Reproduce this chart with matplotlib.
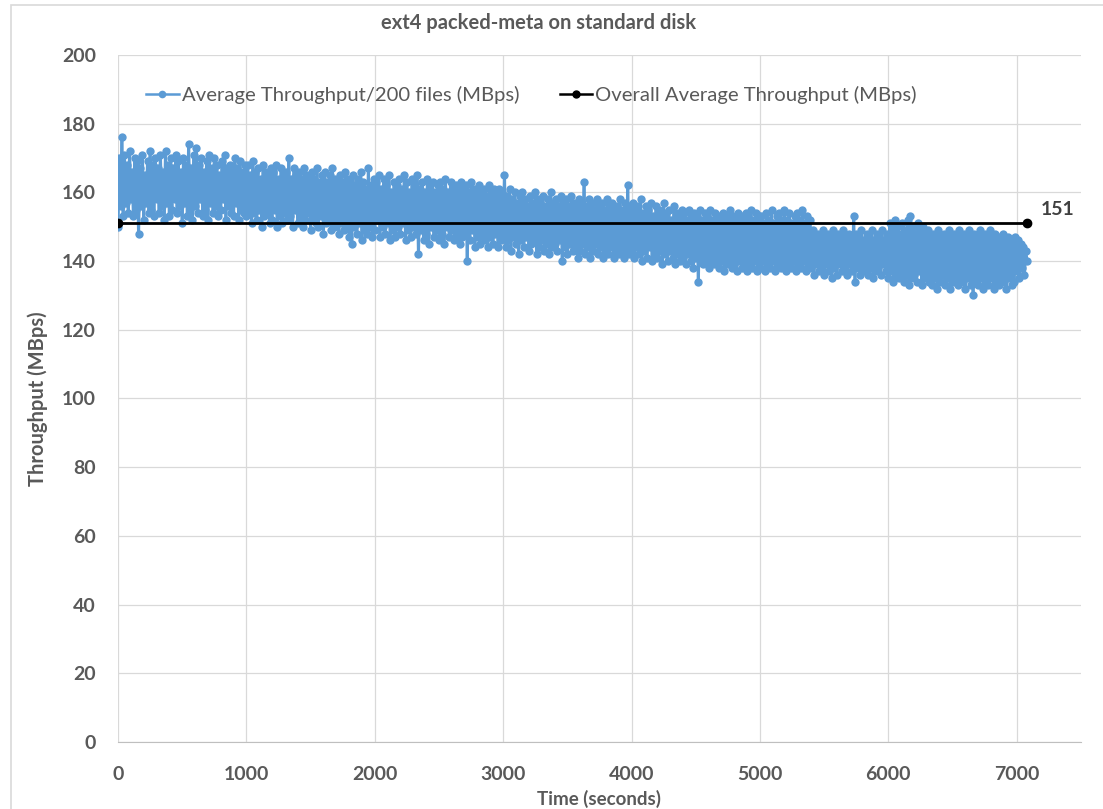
import numpy as np
import matplotlib
matplotlib.use("Agg")
import matplotlib.pyplot as plt
from matplotlib.patches import Rectangle
from matplotlib.lines import Line2D
from matplotlib.collections import LineCollection

# 1. Données

# une mesure toutes les 10 s (débit moyen sur 200 fichiers)
pas_temps = 10
debit = [
    # 0 - 990 s
    150, 170, 156, 176, 153, 171, 157, 168, 154, 172,
    158, 166, 153, 170, 155, 169, 148, 167, 156, 171,
    152, 165, 157, 169, 154, 172, 155, 168, 153, 170,
    158, 167, 154, 171, 156, 166, 152, 172, 157, 168,
    153, 170, 155, 167, 158, 171, 154, 169, 156, 166,
    151, 170, 157, 168, 153, 174, 155, 167, 152, 171,
    156, 173, 154, 168, 158, 170, 153, 166, 155, 169,
    152, 171, 157, 167, 154, 170, 156, 168, 153, 165,
    155, 169, 158, 171, 152, 167, 156, 168, 154, 166,
    153, 170, 157, 167, 152, 169, 155, 166, 154, 168,
    # 1000 - 1990 s
    153, 168, 155, 165, 151, 169, 154, 166, 152, 167,
    155, 164, 150, 168, 153, 166, 154, 165, 151, 167,
    152, 166, 155, 168, 150, 164, 153, 167, 151, 165,
    154, 166, 152, 170, 153, 164, 150, 167, 155, 165,
    151, 166, 153, 164, 150, 167, 152, 165, 154, 163,
    149, 166, 152, 164, 151, 167, 150, 163, 153, 165,
    148, 166, 151, 163, 152, 165, 149, 167, 150, 164,
    152, 162, 148, 165, 151, 163, 149, 166, 150, 164,
    147, 163, 145, 165, 150, 162, 148, 164, 151, 166,
    146, 163, 149, 161, 148, 167, 150, 162, 147, 164,
    # 2000 - 2990 s
    149, 163, 152, 165, 147, 161, 150, 164, 148, 162,
    151, 165, 146, 160, 149, 163, 147, 162, 150, 164,
    148, 161, 151, 165, 146, 163, 149, 160, 147, 164,
    150, 162, 148, 165, 142, 161, 149, 163, 146, 160,
    148, 164, 145, 162, 150, 163, 147, 160, 149, 162,
    146, 163, 148, 161, 145, 164, 150, 160, 147, 163,
    149, 161, 146, 162, 148, 160, 145, 163, 147, 161,
    148, 162, 140, 160, 146, 163, 149, 161, 144, 159,
    147, 162, 145, 160, 148, 161, 146, 159, 144, 162,
    147, 160, 145, 161, 148, 159, 144, 161, 146, 160,
    # 3000 - 3990 s
    147, 165, 144, 159, 146, 161, 143, 158, 147, 160,
    145, 157, 142, 159, 146, 160, 144, 158, 147, 156,
    143, 159, 145, 157, 146, 160, 142, 158, 144, 157,
    146, 159, 143, 156, 145, 158, 142, 160, 144, 157,
    145, 158, 143, 156, 146, 159, 140, 157, 144, 158,
    142, 156, 145, 159, 143, 157, 144, 156, 141, 158,
    143, 157, 145, 163, 142, 156, 144, 158, 141, 157,
    143, 155, 145, 158, 142, 156, 144, 157, 141, 155,
    143, 158, 142, 156, 144, 157, 141, 155, 143, 156,
    142, 158, 144, 155, 141, 157, 143, 162, 142, 156,
    # 4000 - 4990 s
    143, 157, 141, 155, 144, 156, 142, 158, 140, 154,
    143, 156, 141, 155, 144, 157, 140, 153, 142, 156,
    141, 155, 143, 153, 139, 157, 142, 154, 140, 155,
    143, 152, 141, 156, 139, 154, 142, 153, 140, 155,
    141, 154, 139, 152, 142, 155, 140, 153, 138, 154,
    141, 153, 134, 155, 140, 152, 139, 154, 141, 153,
    138, 155, 140, 152, 139, 154, 141, 153, 138, 152,
    140, 154, 137, 153, 139, 152, 140, 155, 138, 153,
    139, 152, 137, 154, 140, 153, 138, 152, 139, 154,
    137, 153, 139, 155, 138, 152, 140, 154, 137, 153,
    # 5000 - 5990 s
    138, 153, 140, 151, 137, 154, 139, 152, 138, 155,
    140, 151, 137, 153, 139, 154, 138, 152, 140, 155,
    137, 152, 139, 154, 138, 151, 140, 153, 137, 154,
    139, 152, 138, 155, 140, 151, 137, 153, 139, 152,
    138, 149, 136, 147, 139, 148, 137, 146, 138, 149,
    136, 147, 139, 148, 137, 146, 135, 149, 138, 147,
    136, 148, 139, 146, 137, 149, 138, 147, 136, 148,
    139, 146, 137, 153, 134, 148, 138, 147, 136, 149,
    137, 146, 139, 148, 136, 147, 138, 149, 135, 146,
    137, 148, 138, 147, 136, 149, 139, 146, 137, 148,
    # 6000 - 6990 s
    135, 151, 137, 149, 134, 152, 136, 150, 135, 148,
    137, 151, 134, 149, 136, 152, 133, 153, 135, 150,
    136, 148, 134, 151, 137, 149, 133, 150, 135, 148,
    136, 149, 134, 147, 133, 148, 135, 146, 132, 149,
    134, 147, 136, 148, 133, 146, 135, 149, 132, 147,
    134, 148, 136, 146, 133, 149, 135, 147, 134, 148,
    132, 146, 135, 149, 133, 147, 130, 148, 134, 146,
    133, 149, 135, 147, 132, 148, 134, 146, 133, 149,
    135, 147, 132, 148, 134, 146, 133, 147, 135, 148,
    134, 146, 132, 147, 135, 145, 133, 146, 134, 147,
    # 7000 - 7080 s
    137, 146, 135, 145, 138, 144, 136, 143, 140,
]
temps = np.arange(len(debit)) * pas_temps

# débit moyen global sur toute la durée du test
debit_moyen = 151
temps_moyen = [0, 7080]

# 2. Graphique

plt.rcParams['font.family'] = ['Lato', 'DejaVu Sans']
gris = '#595959'
bleu = '#5B9BD5'

fig = plt.figure(figsize=(11.03, 8.09), dpi=100)
ax = fig.add_axes([0.107, 0.0828, 0.873, 0.8493])

# cadre du graphique
fig.patches.append(Rectangle((0.010, -0.05), 1.2, 0.9938 + 0.05, transform=fig.transFigure,
                             fill=False, edgecolor='#D9D9D9', linewidth=1.2))

# chaque segment est tracé à part : une seule polyligne en zigzag laisse des trous
points = np.column_stack([temps, debit])
segments = np.stack([points[:-1], points[1:]], axis=1)
ax.add_collection(LineCollection(segments, colors=bleu, linewidths=2.2,
                                 capstyle='round', zorder=2))
ax.plot(temps, debit, color=bleu, linestyle='none', marker='o', markersize=6,
        markeredgewidth=0, zorder=2)
ax.plot(temps_moyen, [debit_moyen, debit_moyen], color='black', linewidth=2,
        marker='o', markersize=6, zorder=3)
ax.text(temps_moyen[-1] + 110, debit_moyen + 1.5, str(debit_moyen), fontsize=14,
        fontweight='bold', color='#404040', ha='left', va='bottom')

ax.set_xlim(0, 7500)
ax.set_ylim(0, 200)
ax.set_xticks(range(0, 7001, 1000))
ax.set_yticks(range(0, 201, 20))
ax.grid(color='#D9D9D9', linewidth=0.9)
ax.set_axisbelow(True)
for cote in ['left', 'right', 'top']:
    ax.spines[cote].set_visible(False)
ax.spines['bottom'].set_color('#BFBFBF')
ax.tick_params(length=0, labelsize=14, labelcolor=gris, pad=16)
ax.tick_params(axis='x', pad=17)
for lab in ax.get_xticklabels() + ax.get_yticklabels():
    lab.set_fontweight('bold')

ax.set_xlabel('Time (seconds)', fontsize=13.5, fontweight='bold', color=gris, labelpad=5)
ax.set_ylabel('Throughput (MBps)', fontsize=14.5, fontweight='bold', color=gris, labelpad=10)
fig.text(0.488, 0.972, 'ext4 packed-meta on standard disk', fontsize=14.5,
         fontweight='bold', color=gris, ha='center', va='center')

poignees = [
    Line2D([], [], color=bleu, linewidth=1.8, marker='o', markersize=5.5, markeredgewidth=0),
    Line2D([], [], color='black', linewidth=1.8, marker='o', markersize=5),
]
etiquettes = ['Average Throughput/200 files (MBps)', 'Overall Average Throughput (MBps)']
leg = ax.legend(poignees, etiquettes, loc='center left',
                bbox_to_anchor=(136 / 1103, 1 - 95 / 809),
                bbox_transform=fig.transFigure, ncol=2, frameon=False, borderpad=0,
                fontsize=14.6, handlelength=1.6, handletextpad=0.15, columnspacing=2.0)
for t in leg.get_texts():
    t.set_color(gris)

fig.savefig('out.png', dpi=100)
